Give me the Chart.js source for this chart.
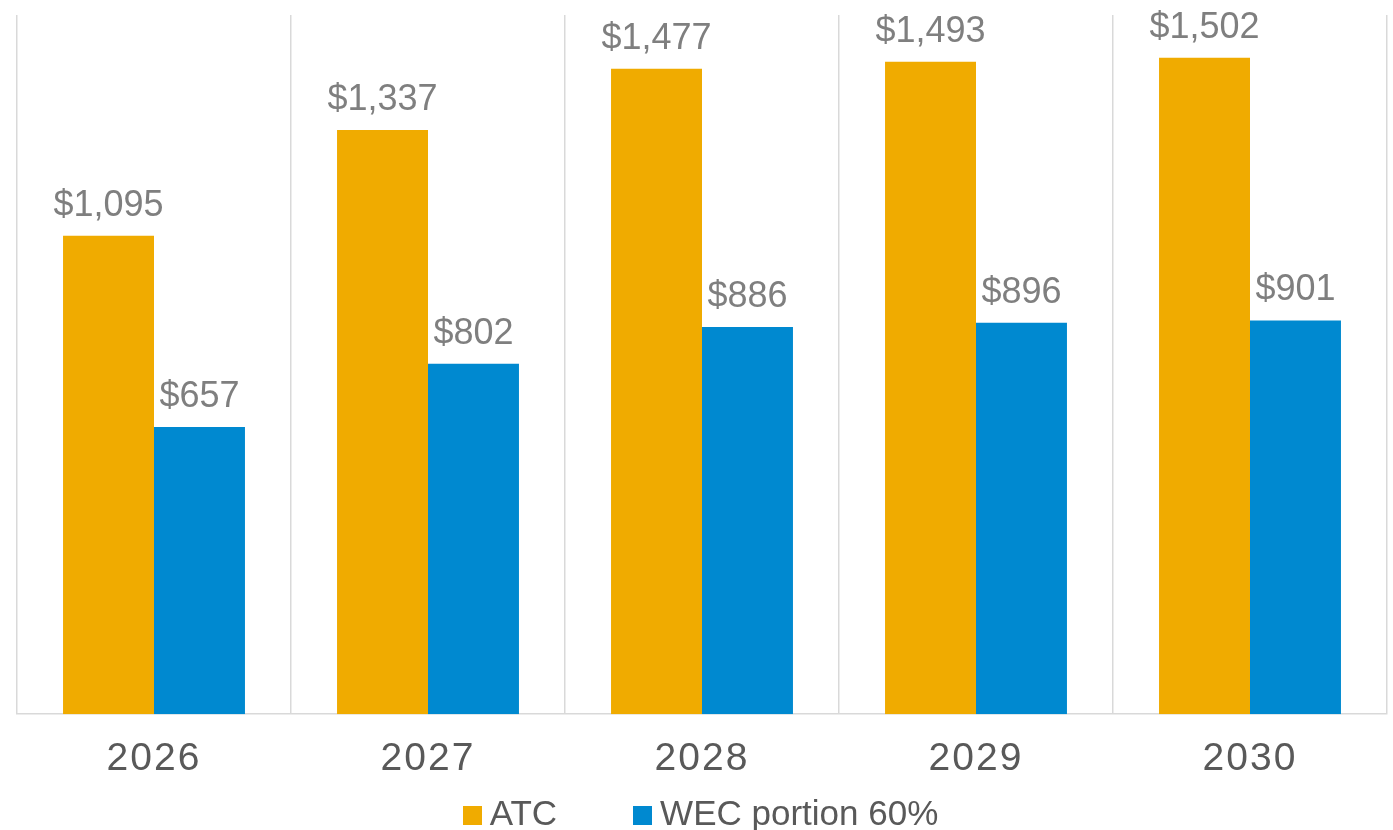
<!DOCTYPE html>
<html>
<head>
<meta charset="utf-8">
<script src="https://cdn.jsdelivr.net/npm/chart.js@4"></script>
<style>
  body { margin: 0; background: #fff; }
  #wrap { position: relative; width: 1393px; height: 830px; }
  #legend {
    position: absolute; left: 0; top: 793px; width: 1401px;
    display: flex; justify-content: center;
    font-family: "Liberation Sans", Arial, sans-serif; font-size: 35px; color: #595959;
  }
  .item { display: flex; align-items: center; margin: 0 38px; }
  .box { width: 19px; height: 19px; margin-right: 8px; margin-top: 4px; }
</style>
</head>
<body>
<div id="wrap">
  <canvas id="myChart" width="1393" height="830"></canvas>
  <div id="legend"></div>
</div>
<script>
var years = ["2026", "2027", "2028", "2029", "2030"];
var atc = [1095, 1337, 1477, 1493, 1502];
var wec = [657, 802, 886, 896, 901];
var seriesNames = ["ATC", "WEC portion 60%"];
var colors = ['#F0AB00', '#0089D0'];

// wider spacing for the year labels
var tickSpacing = {
    id: 'tickSpacing',
    beforeDraw: function(chart) {
        chart.ctx.letterSpacing = '2px';
    },
    beforeDatasetsDraw: function(chart) {
        chart.ctx.letterSpacing = '0px';
    }
};

// labels above the bars
var barLabels = {
    id: 'barLabels',
    afterDatasetsDraw: function(chart) {
        var ctx = chart.ctx;
        ctx.save();
        ctx.font = '36px "Liberation Sans", Arial, sans-serif';
        ctx.fillStyle = '#7F7F7F';
        ctx.textAlign = 'center';
        ctx.textBaseline = 'alphabetic';
        chart.data.datasets.forEach(function(ds, i) {
            chart.getDatasetMeta(i).data.forEach(function(bar, j) {
                ctx.fillText('$' + ds.data[j].toLocaleString('en-US'), bar.x, bar.y - 20);
            });
        });
        ctx.restore();
    }
};

var ctx = document.getElementById('myChart').getContext('2d');

var chart = new Chart(ctx, {
    type: 'bar',
    data: {
        labels: years,
        datasets: [{
            label: seriesNames[0],
            backgroundColor: colors[0],
            data: atc,
        },
        {
            label: seriesNames[1],
            backgroundColor: colors[1],
            data: wec,
        }]
    },
    options: {
        responsive: false,
        animation: false,
        layout: { padding: { left: 17, right: 6, top: 15, bottom: 25 } },
        datasets: { bar: { categoryPercentage: 0.664, barPercentage: 1 } },
        plugins: {
            legend: { display: false },
            tooltip: { enabled: false }
        },
        scales: {
            x: {
                grid: { color: '#D9D9D9', lineWidth: 1.5, drawTicks: false },
                border: { color: '#D9D9D9', width: 1.5 },
                ticks: {
                    color: '#595959',
                    padding: 22,
                    font: { family: '"Liberation Sans", Arial, sans-serif', size: 39 }
                }
            },
            y: {
                display: false,
                min: 0,
                max: 1600
            }
        }
    },
    plugins: [tickSpacing, barLabels]
});

var legend = document.getElementById('legend');
seriesNames.forEach(function(name, i) {
    var item = document.createElement('div');
    item.className = 'item';
    item.innerHTML = '<span class="box" style="background:' + colors[i] + '"></span><span>' + name + '</span>';
    legend.appendChild(item);
});
</script>
</body>
</html>
